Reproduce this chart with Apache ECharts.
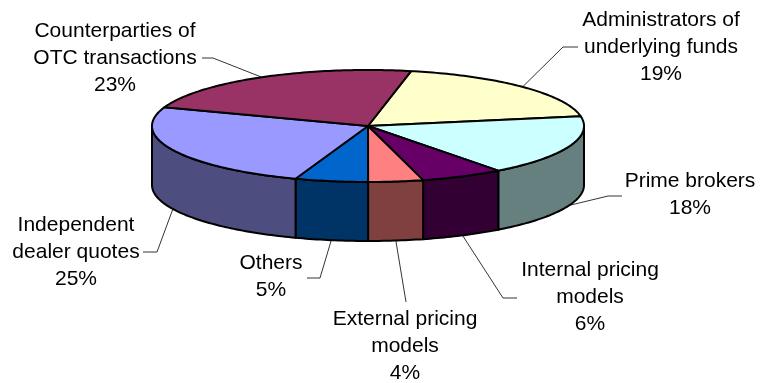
<!DOCTYPE html>
<html>
<head>
<meta charset="utf-8">
<style>html,body{margin:0;padding:0;background:#fff}#c{width:760px;height:383px}</style>
<script src="https://cdn.jsdelivr.net/npm/echarts@6/dist/echarts.min.js"></script>
</head>
<body>
<div id="c"></div>
<script>
// Data, clockwise from the top-right slice
const categories = ['Administrators of\nunderlying funds','Prime brokers','Internal pricing\nmodels','External pricing\nmodels','Others','Independent\ndealer quotes','Counterparties of\nOTC transactions'];
const shares = [19, 17.5, 6.2, 4.1, 5.45, 25, 22.75];
const topColors = ['#FFFFCC','#CCFFFF','#660066','#FF8080','#0066CC','#9999FF','#993366'];
const sideColors = ['#808066','#668080','#330033','#804040','#003366','#4D4D80','#4D1A33'];

// Layout
const CX=368, CY=126, RX=216, RY=56, DEPTH=59, START_DEG=11.5;
const labelPos = [[661,47],[690,195],[590,297],[405,346],[271,277],[76,252],[115,58]];
const elbows = [[[563,47],[578,47]],[[608,196],[622,196]],[[503,298],[517,298]],[[406,302]],[[320,278],[307,278]],[[157,252],[143,252]],[[213,58],[202,58]]];

const total = shares.reduce((a,b)=>a+b,0);
let acc = START_DEG;
const ranges = shares.map(v=>{const a=acc; acc+=v/total*360; return [a,acc];});
const pt=(deg,dy)=>{const r=deg*Math.PI/180; return [CX+RX*Math.sin(r), CY-RY*Math.cos(r)+(dy||0)];};
const arc=(a,b,dy)=>{const p=[];const n=Math.max(2,Math.ceil(Math.abs(b-a)));for(let i=0;i<=n;i++)p.push(pt(a+(b-a)*i/n,dy));return p;};

function renderItem(params){
  const i=params.dataIndex, [a,b]=ranges[i], ch=[];
  const line={stroke:'#000',lineWidth:2,lineJoin:'round'};
  // side wall (front half of the rim only)
  const s=Math.max(a,90), e=Math.min(b,270);
  if(e>s){
    ch.push({type:'polygon',z2:2,shape:{points:arc(s,e,0).concat(arc(e,s,DEPTH))},style:Object.assign({fill:sideColors[i]},line)});
  }
  // top face
  ch.push({type:'polygon',z2:5,shape:{points:[[CX,CY]].concat(arc(a,b,0))},style:Object.assign({fill:topColors[i]},line)});
  // leader line
  const mid=(a+b)/2, front=mid>90&&mid<270;
  ch.push({type:'polyline',z2:1,shape:{points:[pt(mid,front?DEPTH:0)].concat(elbows[i])},style:{stroke:'#000',lineWidth:0.8,fill:null}});
  // label
  ch.push({type:'text',z2:10,style:{x:labelPos[i][0],y:labelPos[i][1],text:categories[i]+'\n'+Math.round(shares[i])+'%',align:'center',verticalAlign:'middle',fontFamily:'"Liberation Sans",Arial,sans-serif',fontSize:21,lineHeight:27,fill:'#000'}});
  return {type:'group',children:ch};
}

const chart=echarts.init(document.getElementById('c'),null,{renderer:'canvas'});
chart.setOption({
  animation:false,
  backgroundColor:'#fff',
  series:[{type:'custom',coordinateSystem:'none',renderItem:renderItem,data:shares.map((v,i)=>({name:categories[i],value:v})),silent:true}]
});
</script>
</body>
</html>
